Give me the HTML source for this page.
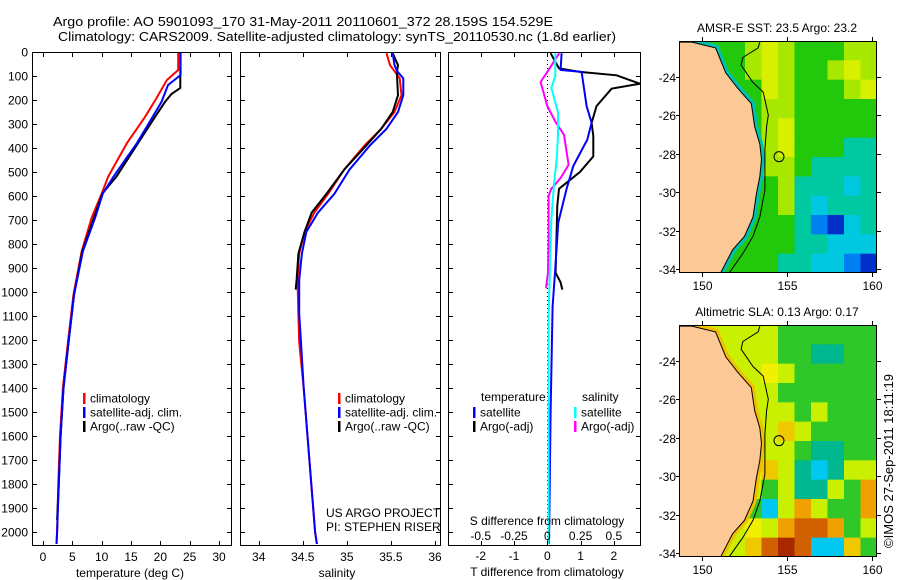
<!DOCTYPE html>
<html><head><meta charset="utf-8"><style>
html,body{margin:0;padding:0;background:#fff;}
svg{display:block;font-family:"Liberation Sans",sans-serif;}
text{fill:#000;}
</style></head><body>
<svg id="fig" width="900" height="580" viewBox="0 0 900 580" xmlns="http://www.w3.org/2000/svg">
<defs>
<clipPath id="c1"><rect x="32" y="52" width="199" height="493"/></clipPath>
<clipPath id="c2"><rect x="240" y="52" width="200" height="493"/></clipPath>
<clipPath id="c3"><rect x="448" y="52" width="192" height="493"/></clipPath>
<clipPath id="m1"><rect x="679" y="41" width="198" height="232"/></clipPath>
<clipPath id="m2"><rect x="679" y="325" width="198" height="232"/></clipPath>
</defs>
<text x="53" y="26" font-size="13" textLength="500" lengthAdjust="spacingAndGlyphs">Argo profile: AO 5901093_170 31-May-2011 20110601_372 28.159S 154.529E</text>
<text x="58" y="41" font-size="13" textLength="558" lengthAdjust="spacingAndGlyphs">Climatology: CARS2009. Satellite-adjusted climatology: synTS_20110530.nc (1.8d earlier)</text>
<g id="g1"></g>
<g id="g2"></g>
<g id="g3"></g>
<g id="gm1"></g>
<g id="gm2"></g>
<text x="0" y="0" font-size="13" text-anchor="middle" transform="translate(893,461) rotate(-90)">©IMOS 27-Sep-2011 18:11:19</text>
</svg>
<script>
// ---- data ----
const depthTclim=[0,75,117,190,270,380,520,590,690,830,1010,1200,1400,1600,1800,2000,2050];
const tempClim=[23.05,23.05,21.1,19.4,17.4,14.3,11.1,10.0,8.3,6.6,5.2,4.3,3.4,2.9,2.6,2.4,2.3];
const depthTsat=[0,96,138,208,270,380,520,590,690,830,1010,1200,1400,1600,1800,2000,2050];
const tempSat=[23.45,23.45,21.3,20.2,18.7,16.0,12.0,10.2,8.9,6.8,5.3,4.4,3.5,3.0,2.7,2.4,2.3];
const depthTargo=[0,150,175,208,270,380,520,590,690,830,1010,1200,1400,1600,1800,1950];
const tempArgo=[23.4,23.4,21.9,20.8,19.1,16.2,12.5,10.1,8.7,6.7,5.3,4.4,3.5,3.0,2.7,2.4];
const depthS=[5,55,80,110,180,250,320,390,490,590,670,750,840,950,1090,1210,1400,2000,2050];
const salClim=[35.45,35.49,35.54,35.60,35.62,35.54,35.39,35.20,34.97,34.79,34.63,34.52,34.46,34.44,34.45,34.46,34.51,34.64,34.66];
const salSat=[35.52,35.54,35.57,35.64,35.64,35.58,35.45,35.26,35.03,34.86,34.67,34.54,34.49,34.46,34.46,34.48,34.51,34.64,34.66];
const depthSargo=[5,55,80,110,180,250,320,390,490,590,670,750,840,950,990];
const salArgo=[35.52,35.58,35.57,35.57,35.58,35.52,35.39,35.22,34.97,34.77,34.60,34.52,34.45,34.43,34.42];
const depthDTsat=[5,75,83,225,295,365,475,570,710,920,1060,1500,2050];
const dTsat=[0.43,0.4,1.03,1.18,1.33,1.2,0.78,0.58,0.33,0.23,0.16,0.1,0.05];
const depthDTargo=[5,68,83,97,132,153,225,295,350,435,500,570,640,920,960,990];
const dTargo=[0.1,0.35,0.98,2.08,2.78,1.93,1.48,1.33,1.38,1.38,0.98,0.35,0.3,0.25,0.4,0.45];
const depthDSargo=[5,83,125,225,290,345,470,525,570,600,780,920,985];
const dSargo=[0.09,0,-0.05,0,0.06,0.125,0.16,0.1,0.03,0.01,0.01,0.005,-0.01];
const depthDSsat=[5,100,150,250,350,450,550,700,1100,2050];
const dSsat=[0.06,0.06,0.03,0.08,0.08,0.07,0.05,0.03,0.01,0.01];
const depthTicks=[0,100,200,300,400,500,600,700,800,900,1000,1100,1200,1300,1400,1500,1600,1700,1800,1900,2000];
const tempTicks=[0,5,10,15,20,25,30];
const salTicks=[34,34.5,35,35.5,36];
const salTickLabels=["34","34.5","35","35.5","36"];
const dTTicks=[-2,-1,0,1,2];
const dSTicks=[-0.5,-0.25,0,0.25,0.5];
const dSTickLabels=["-0.5","-0.25","0","0.25","0.5"];
const latTicks=[-24,-26,-28,-30,-32,-34];
const lonTicks=[150,155,160];
const sstGrid=["GGGGLYLGGGLL","GGGGLYLGGLYL","GGGGGYLGGGLY","GGGGGLLGGGGG","GGGGGLYGGGGG","GGGGGLYGGGTT","GGGGGLLGTTTT","GGGGGGLTTTCT","GGGGGGLTCTTT","GGGGGGGTBDCT","GGGGGGGTTCCC","GGGGGGTTCCBD"];
const slaGrid=["LLLLLLGGGGGG","LLLLLLGGTTGG","LLLLLYLGGGGG","LLLLLLGGGGGG","LLLLLLLGLGGG","LLLLLLoLGGGG","LLLLLLLGTTGG","LLLLYoLTCTLL","LLLLLGLTTLGO","LLLLGCLOLGGO","LLLLYLORROGL","LLLLoRKRCCoG"];
const argoLon=154.529, argoLat=-28.159;
// ---- helpers ----
const NS="http://www.w3.org/2000/svg";
function mk(tag,attrs,parent){const e=document.createElementNS(NS,tag);for(const k in attrs)e.setAttribute(k,attrs[k]);parent.appendChild(e);return e;}
const Y0=52,Y1=545;
const yD=d=>Y0+d*0.24;
function xLin(d0,d1,p0,p1){return v=>p0+(v-d0)*(p1-p0)/(d1-d0);}
function line(g,xs,ys,xf,color,name,clip){
  const pts=xs.map((v,i)=>xf(v).toFixed(1)+","+yD(ys[i]).toFixed(1)).join(" ");
  const p=mk("polyline",{points:pts,fill:"none",stroke:color,"stroke-width":2,"clip-path":"url(#"+clip+")"},g);
  
  
}
function frame(g,x0,x1,name){
  const r=mk("rect",{x:x0+0.5,y:Y0+0.5,width:x1-x0,height:Y1-Y0,fill:"none",stroke:"#000","stroke-width":1},g);
  
  
  depthTicks.forEach(d=>{const y=Math.round(yD(d))+0.5;
    mk("line",{x1:x0,x2:x0+5,y1:y,y2:y,stroke:"#000"},g);
    mk("line",{x1:x1-4,x2:x1+1,y1:y,y2:y,stroke:"#000"},g);});
}
function xticks(g,vals,xf){vals.forEach(v=>{const x=Math.round(xf(v))+0.5;
  mk("line",{x1:x,x2:x,y1:Y0,y2:Y0+5,stroke:"#000"},g);
  mk("line",{x1:x,x2:x,y1:Y1-4,y2:Y1+1,stroke:"#000"},g);});}
function txt(g,x,y,s,name,anchor,size){const t=mk("text",{x:x,y:y,"font-size":size||12,"text-anchor":anchor||"start"},g);t.textContent=s;
  
  return t;}
function legend(g,x,y,color,label,name){
  const r=mk("rect",{x:x,y:y-5,width:2.5,height:11,fill:color},g);
  
  
  txt(g,x+7,y+4.5,label,name);
}
// ---- panel 1: temperature ----
const g1=document.getElementById("g1");
const xT=xLin(0,30,43,219);
line(g1,tempClim,depthTclim,xT,"#ff0000","climatology-temp-line","c1");
line(g1,tempArgo,depthTargo,xT,"#000000","argo-temp-line","c1");
line(g1,tempSat,depthTsat,xT,"#0000ff","satellite-temp-line","c1");
frame(g1,32,231,"temperature-axes-frame");
xticks(g1,tempTicks,xT);
depthTicks.forEach(d=>txt(g1,28,yD(d)+4.5,String(d),"depth-tick-label","end"));
tempTicks.forEach(v=>txt(g1,xT(v),561,String(v),"temp-tick-label","middle"));
txt(g1,130,577,"temperature (deg C)","temperature-axis-title","middle");
legend(g1,83,398,"#ff0000","climatology","legend-climatology");
legend(g1,83,412,"#0000ff","satellite-adj. clim.","legend-satellite");
legend(g1,83,426,"#000000","Argo(..raw -QC)","legend-argo");
// ---- panel 2: salinity ----
const g2=document.getElementById("g2");
const xS=xLin(34,36,258.7,435);
line(g2,salClim,depthS,xS,"#ff0000","climatology-sal-line","c2");
line(g2,salArgo,depthSargo,xS,"#000000","argo-sal-line","c2");
line(g2,salSat,depthS,xS,"#0000ff","satellite-sal-line","c2");
frame(g2,240,440,"salinity-axes-frame");
xticks(g2,salTicks,xS);
salTicks.forEach((v,i)=>txt(g2,xS(v),561,salTickLabels[i],"sal-tick-label","middle"));
txt(g2,337,577,"salinity","salinity-axis-title","middle");
const lg=mk("g",{"clip-path":"url(#c2)"},g2);
legend(lg,338,398,"#ff0000","climatology","legend-climatology-s");
legend(lg,338,412,"#0000ff","satellite-adj. clim.","legend-satellite-s");
legend(lg,338,426,"#000000","Argo(..raw -QC)","legend-argo-s");
const pg=mk("g",{"clip-path":"url(#c2)"},g2);
txt(pg,326,517,"US ARGO PROJECT","project-credit");
txt(pg,326,531,"PI: STEPHEN RISER","pi-credit");
// ---- panel 3: differences ----
const g3=document.getElementById("g3");
const xDT=xLin(0,1,547.3,580.6);
const xDS=xLin(0,0.25,547.3,580.6);
const zl=mk("line",{x1:547.5,x2:547.5,y1:Y0,y2:Y1,stroke:"#000","stroke-dasharray":"1,3"},g3);


line(g3,dTargo,depthDTargo,xDT,"#000000","argo-temp-diff-line","c3");
line(g3,dTsat,depthDTsat,xDT,"#0000ff","satellite-temp-diff-line","c3");
line(g3,dSargo,depthDSargo,xDS,"#ff00ff","argo-sal-diff-line","c3");
line(g3,dSsat,depthDSsat,xDS,"#00ffff","satellite-sal-diff-line","c3");
frame(g3,448,640,"difference-axes-frame");
xticks(g3,dTTicks,xDT);
dTTicks.forEach(v=>txt(g3,xDT(v),560,String(v),"t-diff-tick-label","middle"));
txt(g3,547,576,"T difference from climatology","t-diff-axis-title","middle");
dSTicks.forEach((v,i)=>txt(g3,xDS(v),540,dSTickLabels[i],"s-diff-tick-label","middle"));
txt(g3,547,525,"S difference from climatology","s-diff-axis-title","middle");
txt(g3,481,401,"temperature","legend-temperature-header");
txt(g3,582,401,"salinity","legend-salinity-header");
legend(g3,473,412,"#0000ff","satellite","legend-temp-satellite");
legend(g3,473,426,"#000000","Argo(-adj)","legend-temp-argo");
legend(g3,574,412,"#00ffff","satellite","legend-sal-satellite");
legend(g3,574,426,"#ff00ff","Argo(-adj)","legend-sal-argo");
// ---- maps ----
const coast=[[148.6,-22.2],[149.4,-22.2],[150.8,-22.5],[151.4,-23.8],[152.1,-24.6],[152.9,-25.4],[153.1,-26.6],[153.4,-27.5],[153.5,-28.3],[153.4,-29.2],[153.2,-30.1],[153.0,-31.3],[152.5,-32.3],[151.8,-33.0],[151.1,-34.2],[148.6,-34.2]];
const iso=[[153.4,-22.2],[153.3,-22.5],[152.4,-23.0],[152.3,-23.4],[153.0,-24.3],[153.6,-24.8],[153.9,-26.0],[153.8,-26.6],[153.7,-27.8],[153.7,-28.7],[153.7,-29.9],[153.4,-31.3],[153.0,-32.3],[152.4,-33.2],[151.6,-34.2]];
const sstCol={Y:"#d8f000",L:"#a8e800",G:"#22c80a",T:"#00c8a0",C:"#00c8e0",B:"#0080f0",D:"#0030c8"};
const slaCol={Y:"#f0f000",L:"#c8f000",G:"#30c828",T:"#00b890",C:"#00c8f0",O:"#f0a000",R:"#d06000",K:"#a82800",o:"#f0c800"};
function drawMap(g,top,grid,cols,band,title,clip){
  const lonX=xLin(150,160,702,872), latY=xLin(-24,-34,top+35.7,top+228);
  const x0=679,x1=877,y0=top,y1=top+232;
  const cg=mk("g",{"clip-path":"url(#"+clip+")"},g);
  const nr=grid.length,nc=grid[0].length,cw=(x1-x0)/nc,ch=(y1-y0)/nr;
  grid.forEach((row,i)=>{for(let j=0;j<nc;j++){
    const r=mk("rect",{x:x0+j*cw,y:y0+i*ch,width:cw+0.5,height:ch+0.5,fill:cols[row[j]]},cg);
    
    }});
  const cpts=coast.map(p=>lonX(p[0]).toFixed(1)+","+latY(p[1]).toFixed(1)).join(" ");
  const ipts=iso.map(p=>lonX(p[0]).toFixed(1)+","+latY(p[1]).toFixed(1)).join(" ");
  const bandPts=coast.slice(1,15).map(p=>lonX(p[0]).toFixed(1)+","+latY(p[1]).toFixed(1)).join(" ");
  mk("polyline",{points:bandPts,fill:"none",stroke:band,"stroke-width":7},cg);
  const land=mk("polygon",{points:cpts,fill:"#fcc896",stroke:"#000","stroke-width":1},cg);
  
  
  const isol=mk("polyline",{points:ipts,fill:"none",stroke:"#000","stroke-width":1},cg);
  
  
  const c=mk("circle",{cx:lonX(argoLon),cy:latY(argoLat),r:5,fill:"none",stroke:"#000","stroke-width":1},g);
  
  
  const fr=mk("rect",{x:x0+0.5,y:y0+0.5,width:x1-x0-1,height:y1-y0-1,fill:"none",stroke:"#000"},g);
  
  
  latTicks.forEach(v=>{const y=Math.round(latY(v))+0.5;
    mk("line",{x1:x1,x2:x1+4,y1:y,y2:y,stroke:"#000"},g);
    mk("line",{x1:x0-3,x2:x0,y1:y,y2:y,stroke:"#000"},g);
    txt(g,676,y+4.5,String(v),"lat-tick-label","end");});
  lonTicks.forEach(v=>{const x=Math.round(lonX(v))+0.5;
    mk("line",{x1:x,x2:x,y1:y0-4,y2:y0,stroke:"#000"},g);
    mk("line",{x1:x,x2:x,y1:y1,y2:y1+4,stroke:"#000"},g);
    txt(g,x,y1+17,String(v),"lon-tick-label","middle");});
  txt(g,777,top-9,title,"map-title","middle");
}
drawMap(document.getElementById("gm1"),41,sstGrid,sstCol,"#00c0b0","AMSR-E SST: 23.5 Argo: 23.2","m1");
drawMap(document.getElementById("gm2"),325,slaGrid,slaCol,"#f0c000","Altimetric SLA: 0.13 Argo: 0.17","m2");
</script>
</body></html>
